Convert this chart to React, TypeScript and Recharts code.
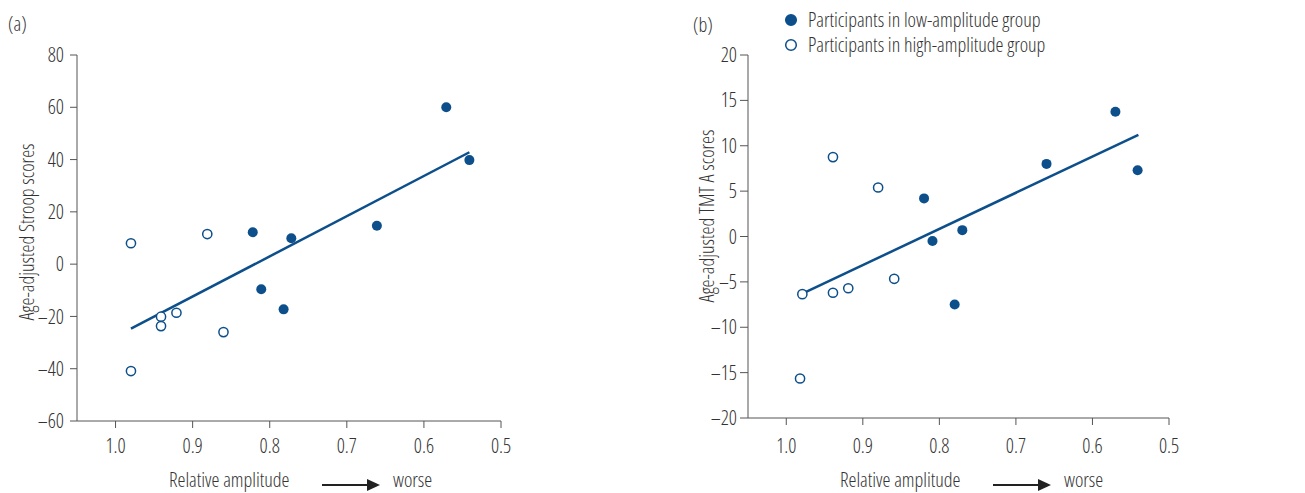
import { ScatterChart, Scatter, XAxis, YAxis, ReferenceLine, Legend } from "recharts";

const BLUE = "#0c4f8b";
const AXIS = "#555555";
const TEXT = "#333333";
const FONT = "'Open Sans', 'DejaVu Sans Condensed', sans-serif";
const FS = 20;

// x ticks shared by both panels (relative amplitude, reversed)
const xTicks = [1.0, 0.9, 0.8, 0.7, 0.6, 0.5];

// (a) Stroop
const stroopTicks = [-60, -40, -20, 0, 20, 40, 60, 80];
const stroopLowX = [0.571, 0.541, 0.661, 0.822, 0.772, 0.811, 0.782];
const stroopLowY = [60, 39.8, 14.7, 12.2, 9.9, -9.6, -17.3];
const stroopHighX = [0.98, 0.881, 0.941, 0.941, 0.921, 0.86, 0.98];
const stroopHighY = [8, 11.5, -20.1, -23.7, -18.6, -26, -40.9];
const stroopFitX = [0.98, 0.541];
const stroopFitY = [-24.7, 42.8];

// (b) TMT A
const tmtTicks = [-20, -15, -10, -5, 0, 5, 10, 15, 20];
const tmtLowX = [0.57, 0.541, 0.66, 0.82, 0.77, 0.809, 0.78];
const tmtLowY = [13.75, 7.3, 8.0, 4.2, 0.7, -0.5, -7.5];
const tmtHighX = [0.939, 0.88, 0.979, 0.939, 0.919, 0.859, 0.982];
const tmtHighY = [8.75, 5.4, -6.35, -6.2, -5.7, -4.66, -15.65];
const tmtFitX = [0.979, 0.54];
const tmtFitY = [-6.3, 11.2];

const zip = (xs: number[], ys: number[]) => xs.map((x, i) => ({ x, y: ys[i] }));

const fmtY = (v: number) => (v < 0 ? `\u2013${Math.abs(v)}` : `${v}`);

const FilledDot = (p: any) => <circle cx={p.cx} cy={p.cy} r={5} fill={BLUE} />;
const OpenDot = (p: any) => (
  <circle cx={p.cx} cy={p.cy} r={4.6} fill="#fff" stroke={BLUE} strokeWidth={1.5} />
);

// "Relative amplitude  ---->  worse" under the x axis
function xTitle(axisX: number) {
  return (props: any) => {
    const x0 = props.viewBox ? props.viewBox.x : axisX;
    const base = 487;
    return (
      <g fontSize={FS} fill={TEXT}>
        <text x={x0 + 92} y={base} fill={TEXT}>Relative amplitude</text>
        <line x1={x0 + 245} y1={485} x2={x0 + 292} y2={485} stroke="#222" strokeWidth={2} />
        <polygon points={`${x0 + 290},479 ${x0 + 303},485 ${x0 + 290},491`} fill="#222" />
        <text x={x0 + 316} y={base} fill={TEXT}>worse</text>
      </g>
    );
  };
}

function yTitle(text: string, tag: string, bx: number, cy: number, tx: number, ty: number) {
  return () => (
    <g fontSize={FS} fill={TEXT}>
      <text x={tx} y={ty} fill={TEXT}>{tag}</text>
      <text x={bx} y={cy} textAnchor="middle" transform={`rotate(-90, ${bx}, ${cy})`} fill={TEXT}>
        {text}
      </text>
    </g>
  );
}

const tickStyle = { fill: TEXT, fontSize: FS };

function LegendBox() {
  const row = (filled: boolean, label: string) => (
    <div style={{ display: "flex", alignItems: "center", height: 25 }}>
      <svg width={14} height={14}>
        <circle cx={7} cy={7} r={5.3} fill={filled ? BLUE : "#fff"} stroke={BLUE} strokeWidth={1.5} />
      </svg>
      <span className="lbl" style={{ marginLeft: 10, fontSize: FS, color: TEXT, lineHeight: "25px" }}>
        {label}
      </span>
    </div>
  );
  return (
    <div>
      {row(true, "Participants in low-amplitude group")}
      {row(false, "Participants in high-amplitude group")}
    </div>
  );
}

const css = `
body { margin: 0; }
.fig text, .fig .lbl { font-family: ${FONT}; font-stretch: condensed; font-weight: 300; }
`;

export default function App() {
  return (
    <div className="fig" style={{ position: "relative", width: 1305, height: 493, background: "#fff" }}>
      <style>{css}</style>

      <div style={{ position: "absolute", left: 0, top: 0 }}>
        <ScatterChart width={650} height={493} margin={{ top: 55, right: 149, bottom: 42, left: 17 }}>
          <XAxis
            type="number" dataKey="x" domain={[0.5, 1.05]} reversed ticks={xTicks}
            tickFormatter={(v: number) => v.toFixed(1)} height={30}
            tickSize={7} tickMargin={11} stroke={AXIS} tick={tickStyle}
            label={xTitle(77)}
          />
          <YAxis
            type="number" dataKey="y" domain={[-60, 80]} ticks={stroopTicks}
            tickFormatter={fmtY} width={60} tickSize={7} tickMargin={6}
            stroke={AXIS} tick={tickStyle}
            label={yTitle("Age-adjusted Stroop scores", "(a)", 34, 232, 8, 31)}
          />
          <ReferenceLine
            segment={[
              { x: stroopFitX[0], y: stroopFitY[0] },
              { x: stroopFitX[1], y: stroopFitY[1] },
            ]}
            stroke={BLUE} strokeWidth={2.5}
          />
          <Scatter data={zip(stroopHighX, stroopHighY)} shape={OpenDot} isAnimationActive={false} />
          <Scatter data={zip(stroopLowX, stroopLowY)} shape={FilledDot} isAnimationActive={false} />
        </ScatterChart>
      </div>

      <div style={{ position: "absolute", left: 660, top: 0 }}>
        <ScatterChart width={645} height={493} margin={{ top: 55, right: 136, bottom: 45, left: 28 }}>
          <XAxis
            type="number" dataKey="x" domain={[0.5, 1.05]} reversed ticks={xTicks}
            tickFormatter={(v: number) => v.toFixed(1)} height={30}
            tickSize={7} tickMargin={14} stroke={AXIS} tick={tickStyle}
            label={xTitle(88)}
          />
          <YAxis
            type="number" dataKey="y" domain={[-20, 20]} ticks={tmtTicks}
            tickFormatter={fmtY} width={60} tickSize={8} tickMargin={3}
            stroke={AXIS} tick={tickStyle}
            label={yTitle("Age-adjusted TMT A scores", "(b)", 54, 216, 33, 32)}
          />
          <Legend
            layout="horizontal" verticalAlign="middle" align="center"
            wrapperStyle={{ top: 7, left: 124, width: "auto" }}
            content={() => <LegendBox />}
          />
          <ReferenceLine
            segment={[
              { x: tmtFitX[0], y: tmtFitY[0] },
              { x: tmtFitX[1], y: tmtFitY[1] },
            ]}
            stroke={BLUE} strokeWidth={2.5}
          />
          <Scatter data={zip(tmtHighX, tmtHighY)} shape={OpenDot} isAnimationActive={false} />
          <Scatter data={zip(tmtLowX, tmtLowY)} shape={FilledDot} isAnimationActive={false} />
        </ScatterChart>
      </div>
    </div>
  );
}
